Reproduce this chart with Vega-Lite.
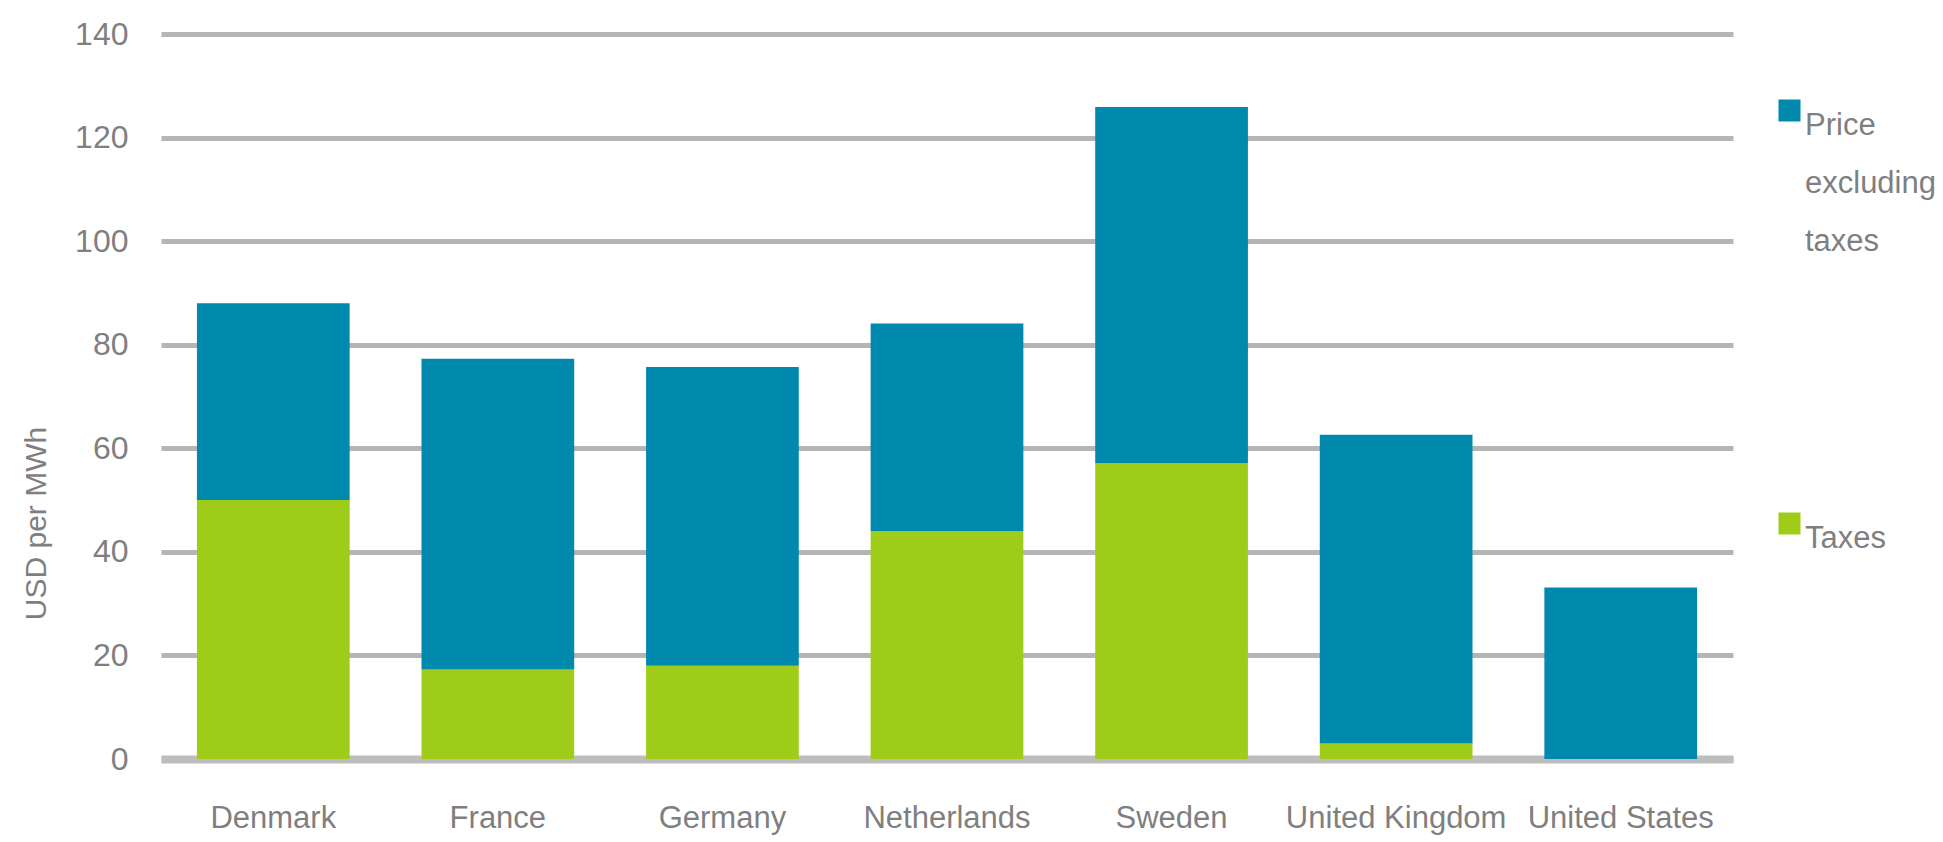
{
  "$schema": "https://vega.github.io/schema/vega-lite/v6.json",
  "width": 1572,
  "height": 725,
  "autosize": {"type": "none"},
  "padding": {"left": 161, "top": 34, "right": 210, "bottom": 83},
  "background": "white",
  "config": {
    "view": {"stroke": null},
    "font": "Liberation Sans",
    "style": {"guide-label": {"lineHeight": 58}},
    "axis": {"labelFont": "Liberation Sans", "titleFont": "Liberation Sans", "labelColor": "#7f7f7f", "titleColor": "#7f7f7f", "titleFontWeight": "normal"},
    "legend": {"labelFont": "Liberation Sans", "labelColor": "#7f7f7f"}
  },
  "data": {
    "values": [
      {"country": "Denmark", "series": "Taxes", "value": 50},
      {"country": "Denmark", "series": "Price excluding taxes", "value": 38},
      {"country": "France", "series": "Taxes", "value": 17.3},
      {"country": "France", "series": "Price excluding taxes", "value": 60},
      {"country": "Germany", "series": "Taxes", "value": 18},
      {"country": "Germany", "series": "Price excluding taxes", "value": 57.7},
      {"country": "Netherlands", "series": "Taxes", "value": 44},
      {"country": "Netherlands", "series": "Price excluding taxes", "value": 40.1},
      {"country": "Sweden", "series": "Taxes", "value": 57.1},
      {"country": "Sweden", "series": "Price excluding taxes", "value": 68.8},
      {"country": "United Kingdom", "series": "Taxes", "value": 3},
      {"country": "United Kingdom", "series": "Price excluding taxes", "value": 59.6},
      {"country": "United States", "series": "Taxes", "value": 0},
      {"country": "United States", "series": "Price excluding taxes", "value": 33.1}
    ]
  },
  "mark": {"type": "bar"},
  "encoding": {
    "x": {
      "field": "country",
      "type": "nominal",
      "sort": null,
      "scale": {"paddingInner": 0.32, "paddingOuter": 0.16},
      "axis": {
        "title": null,
        "labelAngle": 0,
        "labelFontSize": 31,
        "labelPadding": 44,
        "labelBaseline": "top",
        "labelLimit": 400,
        "labelOverlap": false,
        "ticks": false,
        "domain": true,
        "domainColor": "#bdbdbd",
        "domainWidth": 8,
        "grid": false
      }
    },
    "y": {
      "field": "value",
      "type": "quantitative",
      "stack": "zero",
      "scale": {"domain": [0, 140], "nice": false},
      "axis": {
        "title": "USD per MWh",
        "titleFontSize": 30,
        "titleAngle": 270,
        "titleAlign": "center",
        "titleBaseline": "alphabetic",
        "titleX": -116,
        "titleY": 489,
        "values": [0, 20, 40, 60, 80, 100, 120, 140],
        "labelFontSize": 32,
        "labelPadding": 33,
        "ticks": false,
        "domain": false,
        "grid": true,
        "gridColor": "#b5b5b5",
        "gridWidth": 5
      }
    },
    "color": {
      "field": "series",
      "type": "nominal",
      "scale": {"domain": ["Price excluding taxes", "Taxes"], "range": ["#0088ad", "#9ecc18"]},
      "legend": {
        "title": null,
        "orient": "none",
        "legendX": 1613,
        "legendY": 61,
        "padding": 0,
        "symbolType": "square",
        "symbolSize": 484,
        "symbolStrokeWidth": 0,
        "labelFontSize": 31,
        "labelOffset": 0,
        "labelBaseline": "top",
        "labelLimit": 300,
        "rowPadding": 251,
        "labelExpr": "split(datum.label, ' ')"
      }
    },
    "order": {"field": "series", "sort": "descending"}
  }
}
